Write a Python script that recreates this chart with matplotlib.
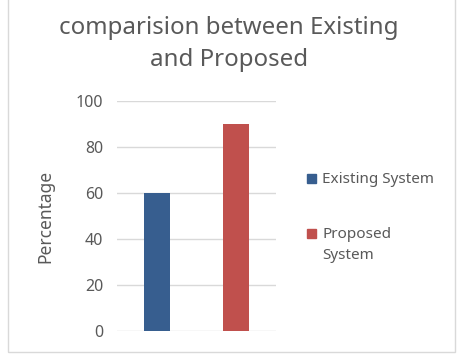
import matplotlib
matplotlib.use("Agg")
import matplotlib.pyplot as plt
from matplotlib.patches import Rectangle

plt.rcParams['font.family'] = ['Noto Sans', 'DejaVu Sans']

systems = ['Existing System', 'Proposed\nSystem']
values = [60, 90]
colors = ['#375E8F', '#C0504D']
yticks = [0, 20, 40, 60, 80, 100]

fig = plt.figure(figsize=(4.58, 3.58), dpi=100)
ax = fig.add_axes([117/458, 1-331/358, 159/458, 230/358])

txt = '#595959'
for i in range(len(values)):
	ax.bar(i, values[i], width=0.33, color=colors[i], zorder=3)

ax.set_xlim(-0.5, 1.5)
ax.set_ylim(0, 100)
ax.set_yticks(yticks)
ax.set_xticks([])
ax.grid(axis='y', color='#D9D9D9', linewidth=1, zorder=0)
for s in ax.spines.values():
	s.set_visible(False)
ax.tick_params(axis='y', length=0, pad=10, labelsize=11.5, labelcolor=txt)
ax.set_ylabel('Percentage', fontsize=12.5, color=txt, labelpad=15)

fig.text(0.5, 1-28/358, 'comparision between Existing', ha='center', va='center', fontsize=17.3, color=txt)
fig.text(0.5, 1-60/358, 'and Proposed', ha='center', va='center', fontsize=17.3, color=txt)

# legend drawn by hand so the square sits on the first line
leg_y = [178, 233]
for i in range(len(systems)):
	yc = 1 - leg_y[i]/358
	fig.patches.append(Rectangle((307/458, yc - 4.5/358), 9/458, 9/358, transform=fig.transFigure,
		color=colors[i]))
	fig.text(322/458, yc + 6/358, systems[i], ha='left', va='top', fontsize=11, color=txt,
		linespacing=1.55)

fig.patches.append(Rectangle((8/458, 1-352/358), 447/458, 352/358+0.05, transform=fig.transFigure,
	fill=False, edgecolor='#D9D9D9', linewidth=1))

fig.savefig('out.png', dpi=100)
